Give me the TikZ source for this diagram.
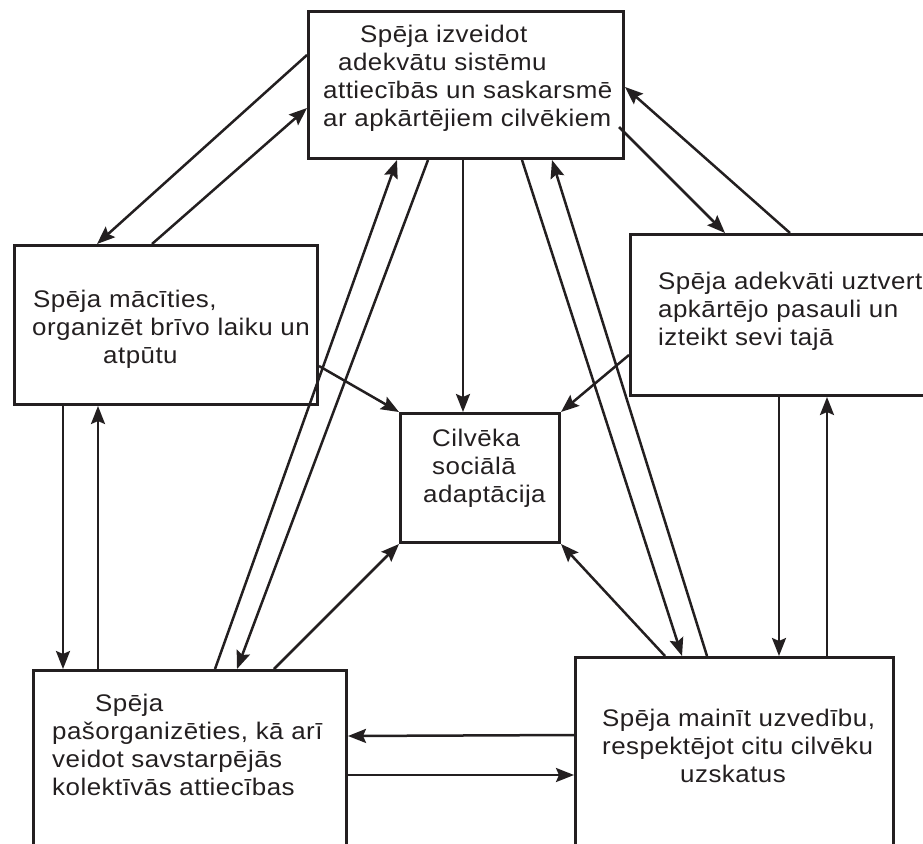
\documentclass[tikz,border=0pt]{standalone}
\usepackage{fontspec}
\setmainfont[FakeStretch=1.08,LetterSpace=2]{Liberation Sans}
\usetikzlibrary{arrows.meta,calc}
\definecolor{ink}{RGB}{35,31,32}
\begin{document}
\begin{tikzpicture}[x=1pt,y=-1pt,
  box/.style={draw=ink,line width=3pt,rectangle,inner sep=0pt,anchor=north west},
  lbl/.style={anchor=north west,inner sep=0pt,align=left,text=ink,
    font=\fontsize{24}{28}\selectfont},
  link/.style={draw=ink,line width=2.5pt,-{Stealth[length=18pt,width=14pt,inset=3pt]}}]
\useasboundingbox (0,0) rectangle (923,843);
\clip (0,0) rectangle (923,843);
% boxes
\node[box,minimum width=315pt,minimum height=147pt] (top) at (307,10) {};
\node[box,minimum width=303pt,minimum height=159pt] (left) at (13,244) {};
\node[box,minimum width=300pt,minimum height=161pt] (right) at (629,233) {};
\node[box,minimum width=159pt,minimum height=129pt] (center) at (399,412) {};
\node[box,minimum width=313pt,minimum height=200pt] (bl) at (32,669) {};
\node[box,minimum width=318pt,minimum height=210pt] (br) at (574,656) {};
% texts
\node[lbl] (ttop) at (323,23) {\strut\hspace*{37pt}Spēja izveidot\\\hspace*{15pt}adekvātu sistēmu\\attiecībās un saskarsmē\\ar apkārtējiem cilvēkiem};
\node[lbl] (tleft) at (32,288) {\strut\hspace*{1pt}Spēja mācīties,\\organizēt brīvo laiku un\\\hspace*{71pt}atpūtu};
\node[lbl] (tright) at (658,270) {\strut Spēja adekvāti uztvert\\apkārtējo pasauli un\\izteikt sevi tajā};
\node[lbl] (tcenter) at (423,427) {\strut\hspace*{9pt}Cilvēka\\\hspace*{9pt}sociālā\\adaptācija};
\node[lbl] (tbl) at (52,692) {\strut\hspace*{43pt}Spēja\\pašorganizēties, kā arī\\veidot savstarpējās\\kolektīvās attiecības};
\node[lbl] (tbr) at (602,707) {\strut Spēja mainīt uzvedību,\\respektējot citu cilvēku\\\hspace*{78pt}uzskatus};
% connectors between the outer boxes and the top box
\draw[link] ($(top.north west)+(0,45)$) -- ($(left.north west)+(84,0)$);
\draw[link] ($(left.north west)+(139,0)$) -- ($(top.north west)+(0,98)$);
\draw[link] ($(right.north west)+(161,0)$) -- ($(top.north east)+(0,77)$);
\draw[link] ($(top.north east)+(-6,117)$) -- ($(right.north west)+(96,0)$);
\draw[link] ($(bl.north west)+(183,0)$) -- ($(top.south west)+(90,0)$);
\draw[link] ($(top.south west)+(121,0)$) -- ($(bl.north west)+(205,0)$);
\draw[link] ($(top.south west)+(215,0)$) -- ($(br.north west)+(108,0)$);
\draw[link] ($(br.north west)+(133,0)$) -- ($(top.south west)+(245,0)$);
% connectors into the central box
\draw[link] ($(top.south west)+(156,0)$) -- ($(center.north west)+(64,0)$);
\draw[link] ($(left.north east)+(0,122)$) -- (center.north west);
\draw[link] ($(right.north west)+(0,122)$) -- (center.north east);
\draw[link] ($(bl.north west)+(242,0)$) -- (center.south west);
\draw[link] ($(br.north west)+(91,0)$) -- (center.south east);
% vertical pairs
\draw[link] ($(left.south west)+(50,0)$) -- ($(bl.north west)+(31,0)$);
\draw[link] ($(bl.north west)+(66,0)$) -- ($(left.south west)+(85,0)$);
\draw[link] ($(right.south west)+(150,0)$) -- ($(br.north west)+(205,0)$);
\draw[link] ($(br.north west)+(253,0)$) -- ($(right.south west)+(198,0)$);
% horizontal pair between the bottom boxes
\draw[link] ($(br.north west)+(0,79)$) -- ($(bl.north east)+(0,67)$);
\draw[link] ($(bl.north east)+(0,106)$) -- ($(br.north west)+(0,119)$);
\end{tikzpicture}
\end{document}
